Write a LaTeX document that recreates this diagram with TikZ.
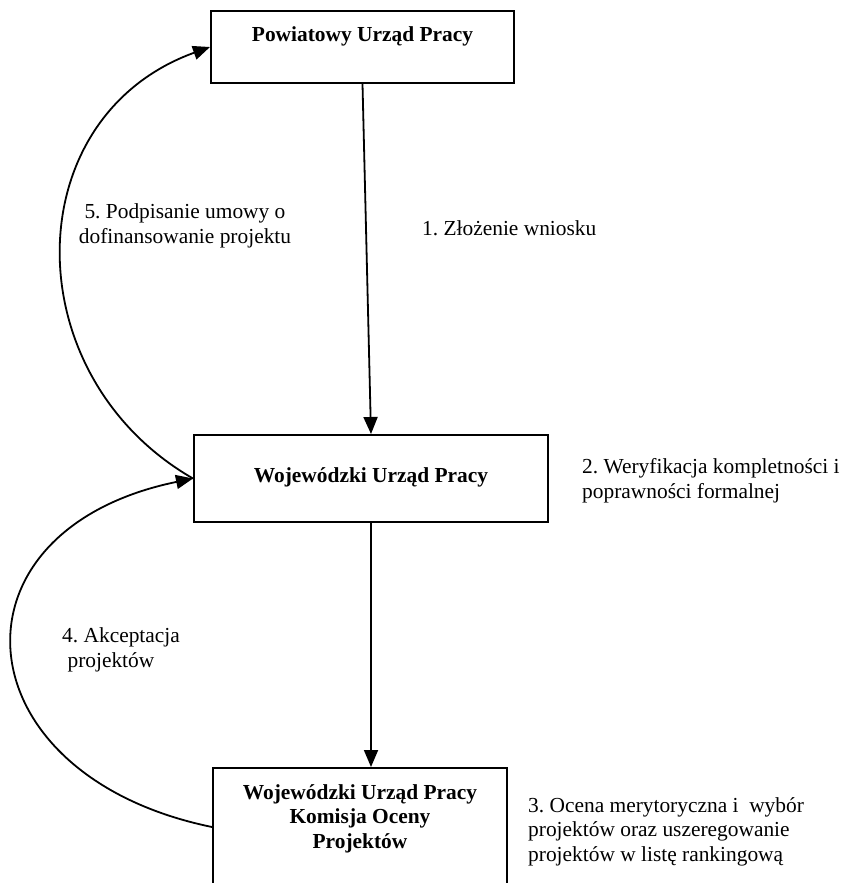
\documentclass[tikz,border=0pt]{standalone}
\usepackage{fontspec}
\setmainfont{Liberation Serif}
\usepackage{tikz}
\usetikzlibrary{arrows.meta,positioning,calc}
\frenchspacing

\begin{document}
\begin{tikzpicture}[
    x=1pt, y=-1pt,
    box/.style={draw, rectangle, line width=2pt, inner xsep=0pt, inner ysep=0pt, font=\fontsize{21.4}{24.5}\selectfont\bfseries, align=center},
    lbl/.style={inner sep=0pt, font=\fontsize{21.4}{24.5}\selectfont},
    arrow/.style={-{Triangle[length=17pt, width=14pt]}, line width=1.8pt}
]
\clip (0,0) rectangle (843,883);
\fill[white] (0,0) rectangle (843,883);

\node[box, minimum width=303pt, text height=31pt, text depth=41pt] (pup) at (362.5,47) {Powiatowy Urząd Pracy};
\node[box, minimum width=354pt, text height=47pt, text depth=40pt] (wup) at (371,478.5) {Wojewódzki Urząd Pracy};
\node[box, minimum width=294pt, text height=80pt, text depth=38pt] (kop) at (360,827) {Wojewódzki Urząd Pracy\\Komisja Oceny\\Projektów};

\draw[arrow] (pup.south) -- (wup.north);
\draw[arrow] (wup.south) -- (wup.south |- kop.north);
\draw[arrow] (wup.west) .. controls +(-179,-103) and +(-194,70) .. (pup.west);
\draw[arrow] (kop.west) .. controls +(-253,-52) and +(-253,52) .. (wup.west);

\node[lbl, anchor=base west] (zlozenie) at (422,235) {1. Złożenie wniosku};
\node[lbl, anchor=base, align=center] (umowa) at (185,243) {5. Podpisanie umowy o\\dofinansowanie projektu};
\node[lbl, anchor=base west, align=left] (weryf) at (582,498) {2. Weryfikacja kompletności i\\poprawności formalnej};
\node[lbl, anchor=base west, align=left] (akcept) at (62,667) {4. Akceptacja\\\ projektów};
\node[lbl, anchor=base west, align=left] (ocena) at (528,861) {3. Ocena merytoryczna i \ wybór\\projektów oraz uszeregowanie\\projektów w listę rankingową};
\end{tikzpicture}
\end{document}
